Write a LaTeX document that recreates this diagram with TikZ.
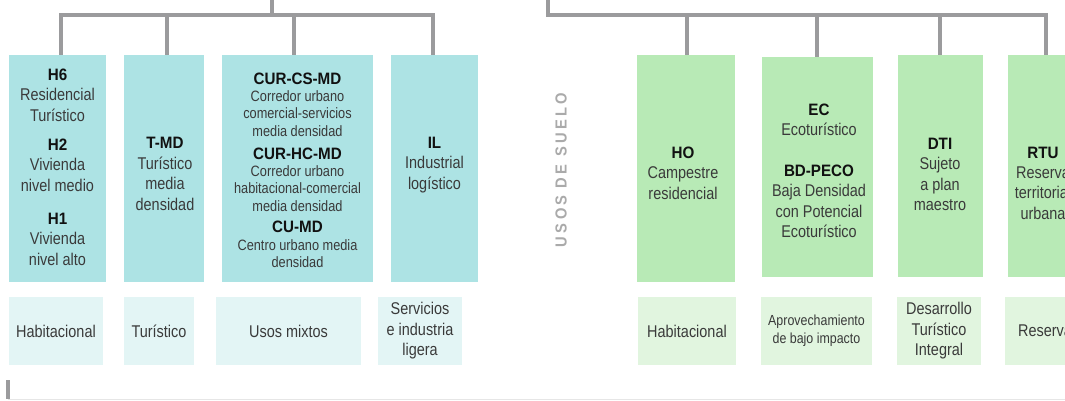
\documentclass[tikz,border=0pt]{standalone}
\usepackage{fontspec}
\setmainfont{Liberation Sans}[FakeStretch=0.85]
\newfontfamily\hfont{Liberation Sans}[FakeStretch=0.92]
\definecolor{teala}{HTML}{ADE3E4}
\definecolor{tealb}{HTML}{E3F5F5}
\definecolor{greena}{HTML}{B8EAB6}
\definecolor{greenb}{HTML}{E1F5DF}
\definecolor{linegray}{HTML}{9B9B9D}
\definecolor{txt}{HTML}{3A3A3A}
\definecolor{hdcol}{HTML}{111111}
\definecolor{vgray}{HTML}{AAAAAA}
\definecolor{faint}{HTML}{E6E6E6}
\newcommand\zhd[1]{{\hfont\bfseries\fontsize{16.5}{17}\selectfont\color{hdcol}#1}}
\newcommand\ls{\hskip3.3pt\relax}
\begin{document}
\begin{tikzpicture}[x=1pt,y=-1pt,
  tree/.style={draw=linegray, line width=4.5pt, line join=miter},
  tbox/.style={fill=teala, draw=none, inner sep=0pt, minimum height=227pt},
  gbox/.style={fill=greena, draw=none, inner sep=0pt},
  lbox/.style={fill=tealb, draw=none, inner sep=0pt, minimum height=68pt, text=txt, align=center, font=\fontsize{17}{20.5}\selectfont},
  hbox/.style={fill=greenb, draw=none, inner sep=0pt, minimum height=68pt, text=txt, align=center, font=\fontsize{17}{20.5}\selectfont},
  desc/.style={text=txt, align=center, inner sep=0pt, font=\fontsize{17}{20.4}\selectfont},
  descs/.style={text=txt, align=center, inner sep=0pt, font=\fontsize{15}{17.3}\selectfont}]
\useasboundingbox (0,0) rectangle (1065,400);
\clip (0,0) rectangle (1065,400);
\fill[white] (0,0) rectangle (1065,400);

% ---- left group boxes
\node[tbox, minimum width=97pt]  (L1) at (57.5,168.5) {};
\node[tbox, minimum width=80pt]  (L2) at (164,168.5) {};
\node[tbox, minimum width=151pt] (L3) at (297.5,168.5) {};
\node[tbox, minimum width=87pt]  (L4) at (434.5,168.5) {};

\node[desc] (t1a) at (57.5,95) {\zhd{H6}\\Residencial\\Turístico};
\node[desc] (t1b) at (57.5,165) {\zhd{H2}\\Vivienda\\nivel medio};
\node[desc] (t1c) at (57.5,239) {\zhd{H1}\\Vivienda\\nivel alto};
\node[desc] (t2) at (165,174) {\zhd{T-MD}\\Turístico\\media\\densidad};
\node[descs] (t3a) at (297.5,104.5) {\zhd{CUR-CS-MD}\\Corredor urbano\\comercial-servicios\\media densidad};
\node[descs] (t3b) at (297.5,179.5) {\zhd{CUR-HC-MD}\\Corredor urbano\\habitacional-comercial\\media densidad};
\node[descs] (t3c) at (297.5,244.5) {\zhd{CU-MD}\\Centro urbano media\\densidad};
\node[desc] (t4) at (434.5,165) {\zhd{IL}\\Industrial\\logístico};

% ---- right group boxes
\node[gbox, minimum width=98pt, minimum height=227pt] (R1) at (686,168.5) {};
\node[gbox, minimum width=111pt, minimum height=220pt] (R2) at (817.5,167) {};
\node[gbox, minimum width=85pt, minimum height=222pt] (R3) at (940.5,166) {};
\node[gbox, minimum width=76pt, minimum height=222pt] (R4) at (1046,166) {};

\node[desc] (u1) at (683,173) {\zhd{HO}\\Campestre\\residencial};
\node[desc] (u2a) at (819,120) {\zhd{EC}\\Ecoturístico};
\node[desc] (u2b) at (819,201.5) {\zhd{BD-PECO}\\Baja Densidad\\con Potencial\\Ecoturístico};
\node[desc] (u3) at (940,174.5) {\zhd{DTI}\\Sujeto\\a plan\\maestro};
\node[desc] (u4) at (1043,183) {\zhd{RTU}\\Reserva\\territorial\\urbana};

% ---- bottom category boxes
\node[lbox, minimum width=94pt]  (LB1) at (56,331) {Habitacional};
\node[lbox, minimum width=70pt]  (LB2) at (159,331) {Turístico};
\node[lbox, minimum width=145pt] (LB3) at (288.5,331) {Usos mixtos};
\node[lbox, minimum width=84pt]  (LB4) at (420,331) {Servicios\\e industria\\ligera};

\node[hbox, minimum width=98pt]  (RB1) at (687,331) {Habitacional};
\node[hbox, minimum width=111pt, font=\fontsize{14.6}{17.6}\selectfont] (RB2) at (816.5,331) {Aprovechamiento\\de bajo impacto};
\node[hbox, minimum width=84pt]  (RB3) at (939,331) {Desarrollo\\Turístico\\Integral};
\node[hbox, minimum width=80pt]  (RB4) at (1045,331) {Reserva};

% ---- vertical label
\node[rotate=90, text=vgray, inner sep=0pt, font=\hfont\bfseries\fontsize{16}{16}\selectfont] (vt) at (561,170)
  {U\ls S\ls O\ls S\ls\ D\ls E\ls\ S\ls U\ls E\ls L\ls O};

% ---- tree connectors
\coordinate (lroot) at (272,-3);
\coordinate (d1) at (61,15);
\coordinate (d2) at (167,15);
\coordinate (d3) at (294,15);
\coordinate (d4) at (433,15);
\draw[tree] (d1 |- L1.north) -- (d1) -- (d4) -- (d4 |- L4.north);
\draw[tree] (d2) -- (d2 |- L2.north);
\draw[tree] (d3) -- (d3 |- L3.north);
\draw[tree] (lroot) -- (lroot |- d1);

\coordinate (rroot) at (548,-3);
\coordinate (e1) at (687,15);
\coordinate (e2) at (817,15);
\coordinate (e3) at (940,15);
\coordinate (e4) at (1046,15);
\draw[tree] (rroot) -- (rroot |- e4) -- (e4) -- (e4 |- R4.north);
\draw[tree] (e1) -- (e1 |- R1.north);
\draw[tree] (e2) -- (e2 |- R2.north);
\draw[tree] (e3) -- (e3 |- R3.north);

% ---- bottom partial connector
\coordinate (b0) at (8,380);
\coordinate (b1) at (8,399);
\coordinate (b2) at (1068,399);
\draw[draw=faint, line width=1pt] (b1) -- (b2);
\draw[tree, line width=4pt] (b0) -- (b0 |- b2);
\end{tikzpicture}
\end{document}
